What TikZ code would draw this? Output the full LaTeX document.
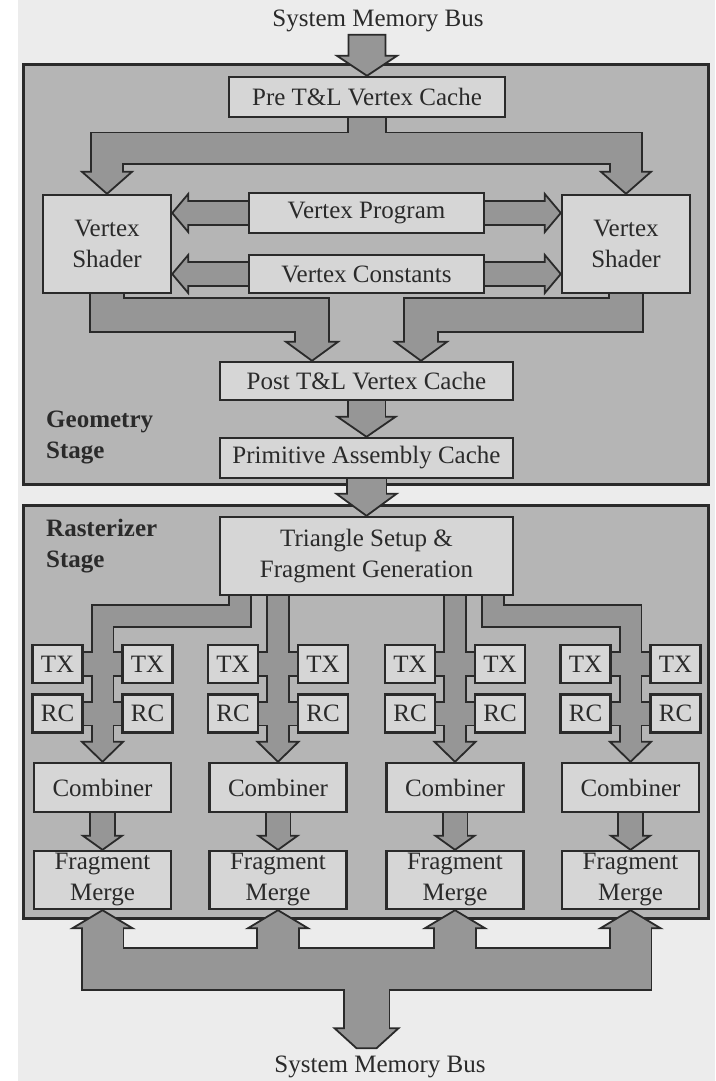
\documentclass[tikz,border=0pt]{standalone}
\usepackage{fontspec}
\setmainfont{Liberation Serif}
\usetikzlibrary{calc}

\pgfdeclarelayer{back}
\pgfdeclarelayer{stage}
\pgfdeclarelayer{arrowline}
\pgfdeclarelayer{arrowhead}
\pgfdeclarelayer{arrowfill}
\pgfsetlayers{back,stage,arrowline,arrowhead,arrowfill,main}

\definecolor{bgcol}{HTML}{ECECEC}
\definecolor{stagecol}{HTML}{B5B5B5}
\definecolor{boxcol}{HTML}{D6D6D6}
\definecolor{arrowcol}{HTML}{969696}
\definecolor{inkcol}{HTML}{2A2A2A}

\tikzset{
  stagebox/.style={draw=inkcol, line width=3pt, fill=stagecol, inner sep=0pt},
  box/.style={draw=inkcol, line width=2.4pt, fill=boxcol, inner sep=0pt,
    align=center, text=inkcol, font=\fontsize{25}{31}\selectfont},
  smallbox/.style={box, minimum width=50pt, minimum height=38pt},
  unitbox/.style={box, minimum width=137pt},
  stagelabel/.style={anchor=west, align=left, inner sep=0pt, text=inkcol,
    font=\bfseries\fontsize{25}{31}\selectfont},
  buslabel/.style={inner sep=0pt, text=inkcol, font=\fontsize{25}{31}\selectfont},
  shaftline/.style={draw=inkcol, line cap=butt, line join=miter},
  shaftfill/.style={draw=arrowcol, line cap=butt, line join=miter},
  headsty/.style={fill=arrowcol, draw=inkcol, line width=1.8pt, line join=miter},
}

% block-arrow body: dark outline stroke below, grey body stroke above
\newcommand\shaft[2]{%
  \begin{pgfonlayer}{arrowline}\draw[shaftline, line width={(#1+3.6)*1pt}] #2;\end{pgfonlayer}%
  \begin{pgfonlayer}{arrowfill}\draw[shaftfill, line width=#1pt] #2;\end{pgfonlayer}}
% block-arrow heads: tip, half width, length
\newcommand\headD[3]{\begin{pgfonlayer}{arrowhead}\filldraw[headsty] (#1) -- ++(-#2,-#3) -- ++(2*#2,0) -- cycle;\end{pgfonlayer}}
\newcommand\headU[3]{\begin{pgfonlayer}{arrowhead}\filldraw[headsty] (#1) -- ++(-#2,#3) -- ++(2*#2,0) -- cycle;\end{pgfonlayer}}
\newcommand\headL[3]{\begin{pgfonlayer}{arrowhead}\filldraw[headsty] (#1) -- ++(#3,-#2) -- ++(0,2*#2) -- cycle;\end{pgfonlayer}}
\newcommand\headR[3]{\begin{pgfonlayer}{arrowhead}\filldraw[headsty] (#1) -- ++(-#3,-#2) -- ++(0,2*#2) -- cycle;\end{pgfonlayer}}

\begin{document}
\begin{tikzpicture}[x=1pt,y=-1pt]
\useasboundingbox (0,0) rectangle (715,1081);

\begin{pgfonlayer}{back}
  \fill[white] (0,0) rectangle (715,1081);
  \fill[bgcol] (18,0) rectangle (715,1081);
\end{pgfonlayer}

% the two pipeline stages
\begin{pgfonlayer}{stage}
  \node[stagebox, minimum width=685pt, minimum height=419pt] (geo) at (365.5,274.5) {};
  \node[stagebox, minimum width=685pt, minimum height=413pt] (ras) at (365.5,711.5) {};
\end{pgfonlayer}

% geometry stage
\node[buslabel] (topbus) at (378,21) {System Memory Bus};
\node[box, minimum width=276pt, minimum height=40pt] (pre) at (367,97) {Pre T\&L Vertex Cache};
\node[box, minimum width=128pt, minimum height=98pt] (lvs) at (107,244) {Vertex\\Shader};
\node[box, minimum width=128pt, minimum height=98pt] (rvs) at (626,244) {Vertex\\Shader};
\node[box, minimum width=235pt, minimum height=40pt] (vprog) at (366.5,213) {Vertex Program};
\node[box, minimum width=235pt, minimum height=38pt] (vconst) at (366.5,274) {Vertex Constants};
\node[box, minimum width=293pt, minimum height=38pt] (post) at (366.5,381) {Post T\&L Vertex Cache};
\node[box, minimum width=293pt, minimum height=40pt] (prim) at (366.5,458) {Primitive Assembly Cache};
\node[stagelabel] (geolabel) at (46,437) {Geometry\\Stage};

% rasterizer stage
\node[stagelabel] (raslabel) at (46,546) {Rasterizer\\Stage};
\node[box, minimum width=293pt, minimum height=78pt] (tri) at (366.5,556) {Triangle Setup \&\\Fragment Generation};
\foreach \k/\c in {1/102.5,2/278,3/455,4/630.5}{
  \node[smallbox] (txa\k) at (\c-45,664) {TX};
  \node[smallbox] (txb\k) at (\c+45,664) {TX};
  \node[smallbox] (rca\k) at (\c-45,713.5) {RC};
  \node[smallbox] (rcb\k) at (\c+45,713.5) {RC};
  \node[unitbox, minimum height=49pt] (comb\k) at (\c,787.5) {Combiner};
  \node[unitbox, minimum height=58pt] (frag\k) at (\c,880) {Fragment\\Merge};
}
\node[buslabel] (botbus) at (380,1067) {System Memory Bus};

% bus into the pre-transform cache
\begin{pgfonlayer}{arrowhead}
  \filldraw[headsty] (pre.north) -- ++(-30,-20) -- ++(11.5,0) -- ++(0,-21)
    -- ++(37,0) -- ++(0,21) -- ++(11.5,0) -- cycle;
\end{pgfonlayer}

% cache feeds both vertex shaders
\shaft{36}{(pre.south) -- ++(0,36)}
\shaft{30}{($(lvs.north)+(0,-20)$) -- ++(0,-25.5) -| ($(rvs.north)+(0,-20)$)}
\headD{lvs.north}{25}{22}
\headD{rvs.north}{25}{22}

% program and constants go to both shaders
\foreach \src in {vprog,vconst}{
  \shaft{22}{(\src.west) -- ($(lvs.east |- \src.west)+(14,0)$)}
  \headL{lvs.east |- \src.west}{19}{16}
  \shaft{22}{(\src.east) -- ($(rvs.west |- \src.east)+(-14,0)$)}
  \headR{rvs.west |- \src.east}{19}{16}
}

% shaders write into the post-transform cache
\coordinate (pl) at ($(post.north)+(-54.5,0)$);
\coordinate (pr) at ($(post.north)+(54.5,0)$);
\shaft{32}{(lvs.south) -- ++(0,21) -| ($(pl)+(0,-17)$)}
\shaft{32}{(rvs.south) -- ++(0,21) -| ($(pr)+(0,-17)$)}
\headD{pl}{26}{19}
\headD{pr}{26}{19}

\shaft{36}{(post.south) -- ($(prim.north)+(0,-18)$)}
\headD{prim.north}{29}{20}
\shaft{38}{(prim.south) -- ($(tri.north)+(0,-20)$)}
\headD{tri.north}{30}{22}

% fragment fan-out to the four pipes
\shaft{20}{($(tri.south)+(-126.5,0)$) -- ++(0,19.5) -| ($(comb1.north)+(0,-18)$)}
\shaft{20}{($(tri.south)+(-88.5,0)$) -- ($(comb2.north)+(0,-18)$)}
\shaft{20}{($(tri.south)+(88.5,0)$) -- ($(comb3.north)+(0,-18)$)}
\shaft{20}{($(tri.south)+(126.5,0)$) -- ++(0,19.5) -| ($(comb4.north)+(0,-18)$)}

\foreach \k in {1,2,3,4}{
  \shaft{22}{(txa\k.east) -- ++(12,0)}
  \shaft{22}{(txb\k.west) -- ++(-12,0)}
  \shaft{22}{(rca\k.east) -- ++(12,0)}
  \shaft{22}{(rcb\k.west) -- ++(-12,0)}
  \headD{comb\k.north}{20.5}{20}
  \shaft{23}{(comb\k.south) -- ($(frag\k.north)+(0,-12)$)}
  \headD{frag\k.north}{19.5}{14}
  \headU{frag\k.south}{30}{18}
}

% merge units share the bus to system memory
\shaft{40}{($(frag1.south)+(0,16)$) |- ($(frag4.south)+(0,59)$) -- ($(frag4.south)+(0,16)$)}
\shaft{40}{($(frag2.south)+(0,16)$) -- ++(0,45)}
\shaft{40}{($(frag3.south)+(0,16)$) -- ++(0,45)}
\coordinate (busjoin) at ($(frag1.south)!.5!(frag4.south)+(0,59)$);
\shaft{44}{(busjoin) -- ++(0,61)}
\begin{pgfonlayer}{arrowhead}
  \filldraw[headsty] ($(busjoin)+(-32,59)$) -- ++(64,0) -- ++(-22,20) -- ++(-20,0) -- cycle;
\end{pgfonlayer}
\end{tikzpicture}
\end{document}
